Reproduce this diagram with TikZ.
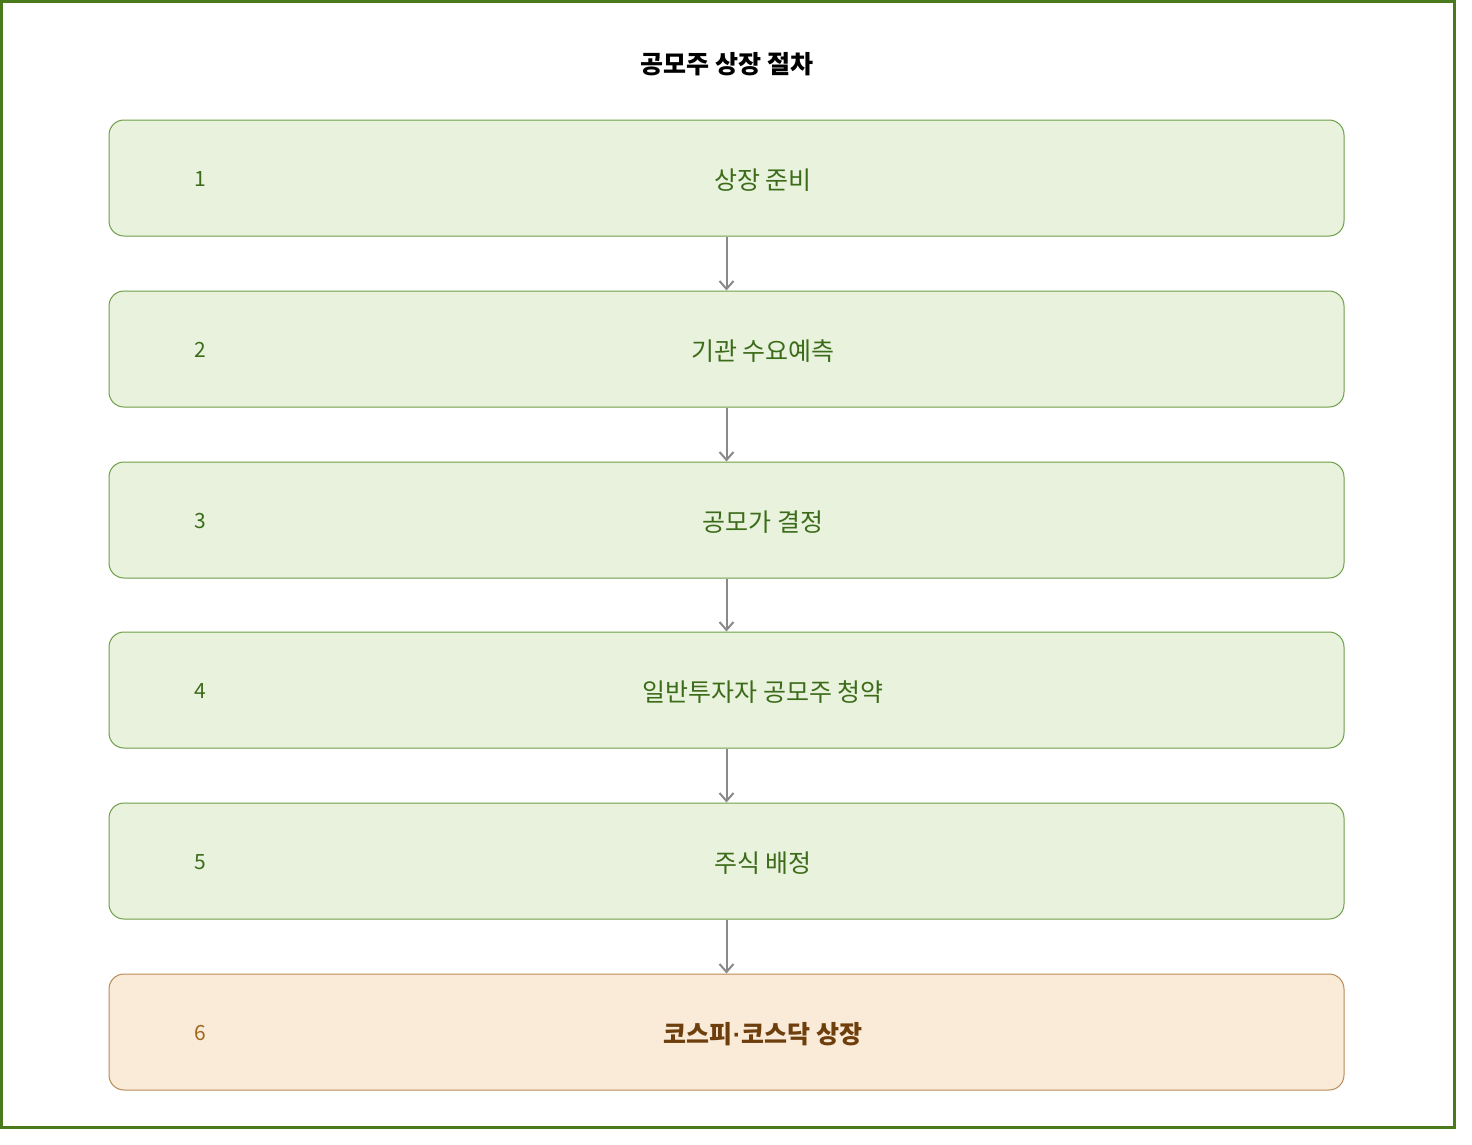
\documentclass[tikz,border=0pt]{standalone}
\usepackage{fontspec}
\setmainfont{Noto Sans CJK KR}
\newfontfamily\dotfont{Liberation Sans}
\usetikzlibrary{arrows.meta}
\definecolor{framegreen}{HTML}{4A7A1C}
\definecolor{boxfill}{HTML}{E8F2DC}
\definecolor{boxdraw}{HTML}{6E9E48}
\definecolor{boxtext}{HTML}{3C6C1A}
\definecolor{endfill}{HTML}{FAEBD8}
\definecolor{enddraw}{HTML}{B88A54}
\definecolor{endtext}{HTML}{6E3E0C}
\definecolor{endnum}{HTML}{A0661E}
\definecolor{arrowgray}{HTML}{8A8A8A}
\begin{document}
\begin{tikzpicture}[x=1pt, y=-1pt, thick,
    main/.style = {draw=boxdraw, fill=boxfill, line width=1pt, rounded corners=15pt, minimum width=1235pt, minimum height=116pt},
    last/.style = {main, draw=enddraw, fill=endfill},
    num/.style = {text=boxtext, font=\fontsize{21}{25}\selectfont},
    label/.style = {text=boxtext, font=\fontsize{25}{30}\selectfont},
    link/.style = {draw=arrowgray, line width=2pt, -{Straight Barb[length=8pt, width=14pt, line width=2pt]}}]
    \useasboundingbox (0,0) rectangle (1472,1144);
    \draw[framegreen, line width=3pt] (1.5,1.5) rectangle (1454,1127);
    \node[font=\bfseries\fontsize{25}{30}\selectfont] (title) at (727,64) {공모주 상장 절차};
    % steps
    \node[main] (1) at (726.5,178) {};
    \node[main] (2) at (726.5,349) {};
    \node[main] (3) at (726.5,520) {};
    \node[main] (4) at (726.5,690) {};
    \node[main] (5) at (726.5,861) {};
    \node[last] (6) at (726.5,1032) {};
    \node[num] (n1) at (200,179) {1};
    \node[num] (n2) at (200,350) {2};
    \node[num] (n3) at (200,521) {3};
    \node[num] (n4) at (200,691) {4};
    \node[num] (n5) at (200,862) {5};
    \node[num, text=endnum] (n6) at (200,1033) {6};
    \node[label] (t1) at (763,180) {상장 준비};
    \node[label] (t2) at (763,351) {기관 수요예측};
    \node[label] (t3) at (763,522) {공모가 결정};
    \node[label] (t4) at (763,692) {일반투자자 공모주 청약};
    \node[label] (t5) at (763,863) {주식 배정};
    \node[label, text=endtext, font=\bfseries\fontsize{25}{30}\selectfont] (t6) at (763,1034) {코스피{\dotfont·}코스닥 상장};
    % arrows
    \draw[link] (1) -- (2);
    \draw[link] (2) -- (3);
    \draw[link] (3) -- (4);
    \draw[link] (4) -- (5);
    \draw[link] (5) -- (6);
\end{tikzpicture}
\end{document}
